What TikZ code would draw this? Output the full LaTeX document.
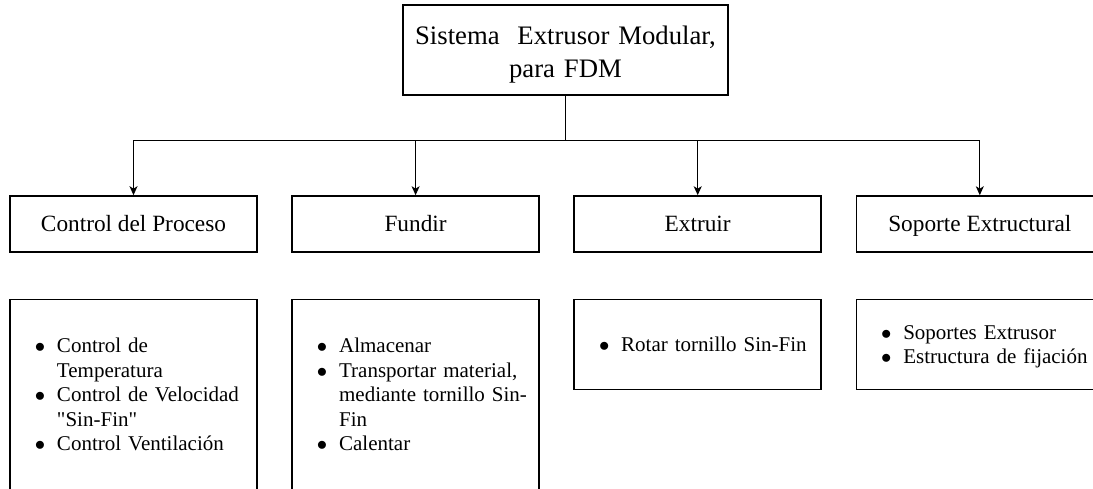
\documentclass[tikz,border=0pt]{standalone}
\usepackage{fontspec}
\setmainfont{Liberation Serif}[Ligatures=TeXOff]
\usetikzlibrary{arrows.meta,positioning}
% one bullet item, hanging indent
\newcommand{\bitem}[1]{\par\setlength{\parskip}{0pt}\setlength{\hangindent}{35pt}\hangafter=1\relax\noindent\makebox[35pt][r]{$\bullet$\hspace{11.75pt}}#1\par}

\begin{document}
\begin{tikzpicture}[x=1pt, y=1pt,
mainbox/.style={draw, line width=1.6pt, align=center, minimum width=325pt, text width=301pt, inner xsep=12pt, minimum height=90pt, text height=20pt, text depth=30pt, font=\fontsize{26.7}{33}\selectfont},
block/.style={draw, line width=1.6pt, minimum width=247pt, minimum height=56pt, inner sep=0pt, text height=15.4pt, text depth=0pt, font=\fontsize{23.3}{28}\selectfont},
detail/.style={draw, line width=1.6pt, minimum width=247pt, text width=223pt, inner xsep=12pt, text height=0pt, font=\fontsize{21}{24.5}\selectfont},
arrow/.style={-{Stealth[length=9pt, width=8pt, inset=2.5pt]}, line width=0.9pt}
]
\useasboundingbox (0,0) rectangle (1093,488);
\node[mainbox] (sistema) at (565.5,438) {Sistema\ \ Extrusor Modular,\\para FDM};
\node[block] (control) at (133.5,264) {Control del Proceso};
\node[block, right=33.5pt of control] (fundir) {Fundir};
\node[block, right=33.5pt of fundir] (extruir) {Extruir};
\node[block, right=33.5pt of extruir] (soporte) {Soporte Extructural};
\node[detail, minimum height=191pt, text depth=134pt, below=46pt of control] (controllist) {\bitem{Control de\newline Temperatura}\bitem{Control de Velocidad\newline "Sin-Fin"}\bitem{Control Ventilación}};
\node[detail, minimum height=191pt, text depth=134pt, below=46pt of fundir] (fundirlist) {\bitem{Almacenar}\bitem{Transportar material,\newline mediante tornillo Sin-\newline Fin}\bitem{Calentar}};
\node[detail, minimum height=90pt, text depth=35pt, below=46pt of extruir] (extruirlist) {\bitem{Rotar tornillo Sin-Fin}};
\node[detail, minimum height=90pt, text depth=59.6pt, below=46pt of soporte] (soportelist) {\bitem{Soportes Extrusor}\bitem{Estructura de fijación}};
\coordinate[below=45pt of sistema.south] (bus);
\foreach \n in {control,fundir,extruir,soporte}
  \draw[arrow] (sistema.south) -- (bus) -| (\n.north);
\end{tikzpicture}
\end{document}
